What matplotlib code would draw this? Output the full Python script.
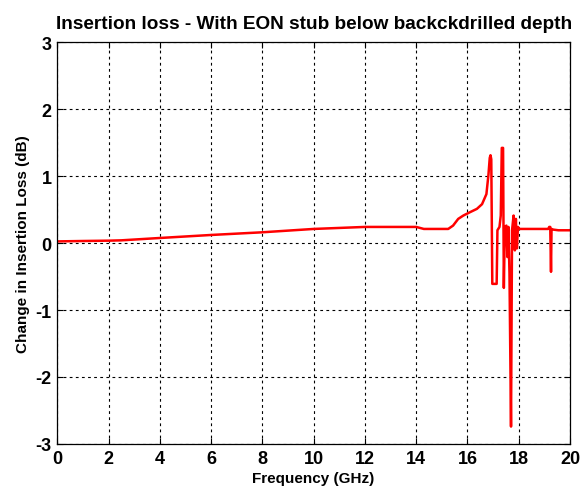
import matplotlib.pyplot as plt
import numpy as np

plt.rcParams["font.family"] = ["Liberation Sans", "DejaVu Sans"]
plt.rcParams["axes.unicode_minus"] = False

# frequency (GHz) and change in insertion loss (dB)
freq_ghz = [
    0.0, 1.0, 2.0, 2.5, 4.0, 6.0, 8.0, 10.0, 12.0, 14.0, 14.3, 15.25,
    15.44, 15.64, 15.84, 16.1, 16.37, 16.57, 16.74, 16.82, 16.87, 16.9, 16.93,
    16.97, 17.14, 17.17, 17.25, 17.3, 17.34, 17.39, 17.42, 17.46, 17.52,
    17.56, 17.6, 17.64, 17.7, 17.74, 17.8, 17.85, 17.89, 17.93, 17.97,
    18.03, 18.5, 19.15, 19.19, 19.23, 19.26, 19.28, 19.35, 19.55, 20.0,
]
delta_il_db = [
    0.024, 0.03, 0.035, 0.04, 0.075, 0.12, 0.16, 0.21, 0.24, 0.24, 0.21, 0.21,
    0.26, 0.36, 0.41, 0.46, 0.51, 0.58, 0.73, 1.02, 1.27, 1.31, 1.25,
    -0.61, -0.61, 0.19, 0.24, 0.41, 1.42, 1.42, -0.67, 0.24, 0.26,
    -0.21, 0.24, -0.45, -2.74, 0.19, 0.41, -0.11, 0.36, -0.08, 0.24,
    0.21, 0.21, 0.21, 0.24, 0.24, -0.43, 0.21, 0.2, 0.19, 0.19,
]

fig = plt.figure(figsize=(5.84, 4.89), dpi=100)
ax = fig.add_axes([0.098, 0.09, 0.878, 0.822])

ax.plot(freq_ghz, delta_il_db, color="#ff0000", linewidth=1.8)

ax.set_xlim(0, 20)
ax.set_ylim(-3, 3)
ax.set_xticks(np.arange(0, 21, 2))
ax.set_yticks(np.arange(-3, 4, 1))
ax.grid(True, color="black", linestyle=(0, (2.5, 3)), linewidth=0.8)
ax.tick_params(direction="in", top=True, right=True, length=4,
               labelsize=13, pad=4)
for lbl in ax.get_xticklabels() + ax.get_yticklabels():
    lbl.set_fontweight("bold")
for s in ax.spines.values():
    s.set_linewidth(0.9)

ax.set_title("Insertion loss - With EON stub below backckdrilled depth",
             fontsize=13.7, fontweight="bold", pad=10)
ax.set_xlabel("Frequency (GHz)", fontsize=11, fontweight="bold", labelpad=3)
ax.set_ylabel("Change in Insertion Loss (dB)", fontsize=11, fontweight="bold",
              labelpad=4)

plt.savefig("out.png", dpi=100)
plt.close()
